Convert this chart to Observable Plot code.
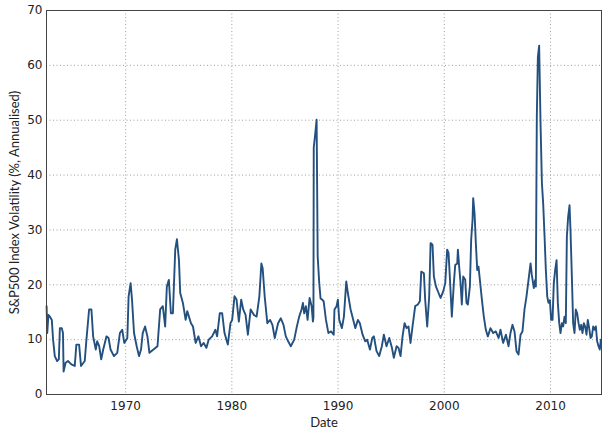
<!DOCTYPE html>
<html>
<head>
<meta charset="utf-8">
<script src="https://cdn.jsdelivr.net/npm/d3@7"></script>
<script src="https://cdn.jsdelivr.net/npm/@observablehq/plot@0.6"></script>
<style>
  html, body { margin: 0; padding: 0; background: #fff; }
  #chart svg { display: block; }
</style>
</head>
<body>
<div id="chart"></div>
<script>
const years = [
  1962.56, 1962.62, 1962.73, 1962.86, 1963.05, 1963.17, 1963.33, 1963.55, 1963.71, 1963.81,
  1963.99, 1964.10, 1964.16, 1964.35, 1964.57, 1964.89, 1965.21, 1965.36, 1965.62, 1965.80,
  1966.15, 1966.31, 1966.56, 1966.78, 1966.94, 1967.19, 1967.32, 1967.51, 1967.70, 1967.89,
  1968.20, 1968.39, 1968.58, 1968.90, 1969.21, 1969.46, 1969.68, 1969.87, 1970.16, 1970.28,
  1970.47, 1970.60, 1970.79, 1971.04, 1971.26, 1971.45, 1971.61, 1971.83, 1972.05, 1972.24,
  1972.62, 1973.00, 1973.25, 1973.50, 1973.72, 1973.88, 1974.07, 1974.26, 1974.45, 1974.67,
  1974.83, 1975.02, 1975.14, 1975.39, 1975.65, 1975.80, 1975.96, 1976.15, 1976.34, 1976.59,
  1976.85, 1977.10, 1977.35, 1977.60, 1977.82, 1978.14, 1978.45, 1978.61, 1978.86, 1979.09,
  1979.31, 1979.62, 1979.87, 1980.03, 1980.25, 1980.44, 1980.66, 1980.88, 1981.07, 1981.29,
  1981.51, 1981.77, 1982.08, 1982.33, 1982.59, 1982.78, 1982.90, 1983.09, 1983.34, 1983.60,
  1983.82, 1984.04, 1984.35, 1984.61, 1984.86, 1985.08, 1985.30, 1985.55, 1985.87, 1986.12,
  1986.34, 1986.56, 1986.69, 1986.81, 1986.97, 1987.13, 1987.32, 1987.51, 1987.63, 1987.68,
  1987.71, 1987.85, 1987.98, 1988.08, 1988.22, 1988.35, 1988.50, 1988.64, 1988.86, 1989.09,
  1989.34, 1989.59, 1989.66, 1989.86, 1989.98, 1990.11, 1990.36, 1990.55, 1990.77, 1990.92,
  1991.18, 1991.43, 1991.62, 1991.87, 1992.05, 1992.31, 1992.56, 1992.74, 1993.00, 1993.22,
  1993.37, 1993.62, 1993.87, 1994.12, 1994.31, 1994.56, 1994.82, 1995.07, 1995.25, 1995.51,
  1995.69, 1995.88, 1996.07, 1996.26, 1996.45, 1996.63, 1996.82, 1997.01, 1997.26, 1997.51,
  1997.70, 1997.83, 1998.08, 1998.20, 1998.39, 1998.58, 1998.71, 1998.89, 1999.02, 1999.21,
  1999.46, 1999.65, 1999.90, 2000.09, 2000.27, 2000.40, 2000.52, 2000.71, 2000.90, 2001.03,
  2001.22, 2001.28, 2001.40, 2001.53, 2001.65, 2001.78, 2001.97, 2002.09, 2002.22, 2002.41,
  2002.53, 2002.66, 2002.72, 2002.85, 2002.97, 2003.10, 2003.22, 2003.35, 2003.54, 2003.72,
  2003.91, 2004.10, 2004.35, 2004.60, 2004.85, 2005.11, 2005.29, 2005.54, 2005.80, 2006.05,
  2006.23, 2006.42, 2006.61, 2006.80, 2006.99, 2007.18, 2007.36, 2007.55, 2007.74, 2007.93,
  2008.12, 2008.24, 2008.43, 2008.56, 2008.62, 2008.71, 2008.81, 2008.93, 2009.06, 2009.19,
  2009.31, 2009.44, 2009.56, 2009.69, 2009.81, 2009.94, 2010.06, 2010.19, 2010.31, 2010.44,
  2010.57, 2010.69, 2010.82, 2010.94, 2011.07, 2011.19, 2011.32, 2011.44, 2011.54, 2011.66,
  2011.79, 2011.88, 2012.01, 2012.13, 2012.26, 2012.38, 2012.51, 2012.64, 2012.76, 2012.89,
  2013.01, 2013.14, 2013.26, 2013.39, 2013.51, 2013.64, 2013.77, 2013.89, 2014.02, 2014.14,
  2014.27, 2014.39, 2014.52, 2014.64, 2014.74
];
const volatility = [
  16.1, 11.2, 14.5, 14.2, 13.6, 10.0, 7.0, 6.1, 6.4, 12.1,
  12.1, 11.2, 4.2, 5.8, 6.1, 5.5, 5.2, 9.1, 9.1, 5.2,
  6.1, 10.0, 15.5, 15.5, 10.6, 8.2, 9.7, 8.8, 6.4, 8.2,
  10.6, 10.3, 8.2, 7.0, 7.6, 11.2, 11.8, 9.4, 10.3, 17.9,
  20.3, 17.3, 11.2, 8.8, 7.0, 8.2, 11.2, 12.4, 10.6, 7.6,
  8.2, 8.8, 15.5, 16.1, 12.4, 19.7, 20.9, 14.8, 14.8, 26.4,
  28.3, 24.5, 18.5, 16.7, 13.6, 15.2, 14.2, 13.0, 12.4, 9.4,
  10.6, 8.8, 9.4, 8.5, 10.0, 10.6, 11.8, 10.6, 14.8, 14.8,
  11.2, 9.1, 13.0, 13.6, 17.9, 17.3, 13.3, 17.3, 15.5, 14.5,
  10.9, 15.5, 14.5, 14.2, 17.9, 23.9, 23.0, 17.9, 13.0, 13.6,
  12.7, 10.3, 13.0, 13.9, 12.7, 10.6, 9.7, 8.8, 10.0, 12.4,
  14.2, 15.5, 16.7, 14.8, 16.1, 13.6, 17.6, 16.1, 13.3, 14.0,
  45.0, 47.5, 50.1, 25.2, 20.5, 17.5, 17.3, 17.0, 13.6, 11.2,
  11.5, 10.9, 15.5, 16.1, 17.3, 13.6, 12.1, 14.2, 20.6, 18.5,
  15.5, 13.6, 12.1, 13.6, 13.0, 10.9, 9.7, 10.0, 8.2, 10.3,
  10.6, 7.9, 7.0, 8.8, 10.9, 8.8, 10.3, 8.5, 6.7, 8.8,
  8.5, 7.0, 10.6, 13.0, 12.1, 12.4, 9.4, 12.4, 16.1, 16.4,
  17.0, 22.4, 22.1, 17.3, 12.4, 17.9, 27.6, 27.3, 21.5, 19.7,
  18.5, 17.6, 18.8, 20.3, 26.4, 25.8, 21.5, 14.2, 20.3, 23.6,
  23.9, 26.4, 23.3, 20.3, 16.4, 21.5, 20.9, 16.7, 16.4, 19.7,
  28.2, 31.8, 35.8, 33.0, 27.6, 22.7, 23.3, 20.9, 17.3, 14.2,
  11.8, 10.6, 12.1, 11.2, 11.5, 10.3, 11.8, 9.4, 10.9, 8.8,
  11.2, 12.7, 11.5, 7.9, 7.3, 10.9, 11.5, 15.5, 17.9, 20.9,
  23.9, 21.8, 19.4, 20.9, 19.7, 50.6, 61.5, 63.6, 49.4, 38.5,
  34.8, 28.8, 22.7, 17.9, 16.7, 17.2, 13.6, 13.6, 20.3, 22.7,
  24.5, 16.7, 13.0, 11.2, 13.0, 12.4, 14.2, 13.0, 28.8, 32.4,
  34.5, 30.0, 21.5, 13.0, 11.2, 15.5, 14.8, 13.0, 11.8, 12.7,
  11.2, 13.0, 12.4, 10.9, 13.6, 12.1, 10.3, 10.6, 12.4, 11.8,
  12.4, 9.7, 8.8, 8.2, 10.0
];
const xTicks = [1970, 1980, 1990, 2000, 2010];
const yTicks = [0, 10, 20, 30, 40, 50, 60, 70];
const xLabel = "Date";
const yLabel = "S&P500 Index Volatility (%, Annualised)";

const data = years.map((y, i) => ({date: y, vol: volatility[i]}));

const tickFont = {fontFamily: "DejaVu Sans", fontSize: 12, fill: "#222"};

const chart = Plot.plot({
  width: 610,
  height: 435,
  marginLeft: 46,
  marginRight: 9,
  marginTop: 10,
  marginBottom: 41,
  x: {domain: [1962.55, 2014.8]},
  y: {domain: [0, 70]},
  style: {background: "#fff"},
  marks: [
    Plot.gridX(xTicks, {stroke: "#888", strokeOpacity: 1, strokeWidth: 0.8, strokeDasharray: "1,2.5"}),
    Plot.gridY(yTicks, {stroke: "#888", strokeOpacity: 1, strokeWidth: 0.8, strokeDasharray: "1,2.5"}),
    Plot.axisX(xTicks, {tickSize: 0, tickPadding: 7, tickFormat: d => String(d), label: null, ...tickFont}),
    Plot.axisY(yTicks, {tickSize: 0, tickPadding: 4, tickFormat: d => String(d), label: null, ...tickFont}),
    Plot.line(data, {x: "date", y: "vol", stroke: "#24507f", strokeWidth: 1.9, strokeLinejoin: "round"}),
    Plot.frame({stroke: "#444", strokeWidth: 1}),
    Plot.text([xLabel], {frameAnchor: "bottom", dy: 28, textAnchor: "middle", lineAnchor: "middle", fontFamily: "Lato", fontSize: 13, fill: "#222", text: d => d}),
    Plot.text([yLabel], {frameAnchor: "left", dx: -32, textAnchor: "middle", lineAnchor: "middle", rotate: -90, fontFamily: "Lato", fontSize: 13, fill: "#222", text: d => d})
  ]
});
document.getElementById("chart").appendChild(chart);
</script>
</body>
</html>
